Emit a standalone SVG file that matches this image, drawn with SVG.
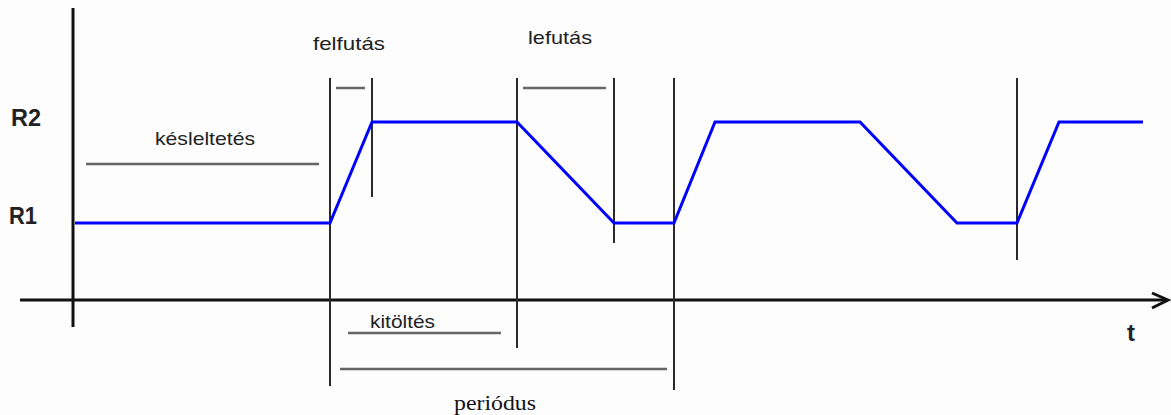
<svg xmlns="http://www.w3.org/2000/svg" width="1171" height="415" viewBox="0 0 1171 415">
<style>
.axis{stroke:#111;stroke-width:3;fill:none}
.vline{stroke:#2a2a2a;stroke-width:2;fill:none}
.dim{stroke:#666;stroke-width:2.5;fill:none}
.wave{stroke:#0000ff;stroke-width:3;fill:none;stroke-linejoin:miter}
.lbl{font-family:"Liberation Sans",Arial,sans-serif;font-size:19px;fill:#222}
.lvl{font-family:"Liberation Sans",Arial,sans-serif;font-size:24px;font-weight:bold;fill:#222}
.ser{font-family:"Liberation Serif","Times New Roman",serif;font-size:22px;fill:#111}
</style>
<rect width="1171" height="415" fill="#fdfdfd"/>
<g id="axes">
<line class="axis" x1="73" y1="8" x2="73" y2="327"/>
<line class="axis" x1="20" y1="300" x2="1167" y2="300"/>
<polyline class="axis" stroke-width="2.5" points="1152,293 1168,300 1152,308"/>
<text class="lvl" x="11" y="126" textLength="30" lengthAdjust="spacingAndGlyphs">R2</text>
<text class="lvl" x="9" y="224" textLength="28" lengthAdjust="spacingAndGlyphs">R1</text>
<text class="lvl" x="1127" y="341" font-size="20">t</text>
</g>
<g id="markers">
<line class="vline" x1="330" y1="78" x2="330" y2="386"/>
<line class="vline" x1="372" y1="78" x2="372" y2="197"/>
<line class="vline" x1="517" y1="78" x2="517" y2="348"/>
<line class="vline" x1="614" y1="78" x2="614" y2="243"/>
<line class="vline" x1="674" y1="78" x2="674" y2="390"/>
<line class="vline" x1="1017" y1="78" x2="1017" y2="260"/>
</g>
<g id="waveform">
<polyline class="wave" points="75,223 330,223 372,122 517,122 614,223 674,223 715,122 860,122 957,223 1017,223 1059,122 1143,122"/>
</g>
<g id="kesleltetes">
<line class="dim" x1="86" y1="164" x2="319" y2="164"/>
<text class="lbl" x="155" y="145" textLength="100" lengthAdjust="spacingAndGlyphs">késleltetés</text>
</g>
<g id="felfutas">
<line class="dim" x1="336" y1="88" x2="365" y2="88"/>
<text class="lbl" x="313" y="50" textLength="72" lengthAdjust="spacingAndGlyphs">felfutás</text>
</g>
<g id="lefutas">
<line class="dim" x1="523" y1="88" x2="606" y2="88"/>
<text class="lbl" x="528" y="44" textLength="64" lengthAdjust="spacingAndGlyphs">lefutás</text>
</g>
<g id="kitoltes">
<line class="dim" x1="348" y1="333" x2="501" y2="333"/>
<text class="lbl" x="370" y="328" textLength="65" lengthAdjust="spacingAndGlyphs">kitöltés</text>
</g>
<g id="periodus">
<line class="dim" x1="340" y1="369" x2="667" y2="369"/>
<text class="ser" x="454" y="410" textLength="82" lengthAdjust="spacingAndGlyphs">periódus</text>
</g>
</svg>
